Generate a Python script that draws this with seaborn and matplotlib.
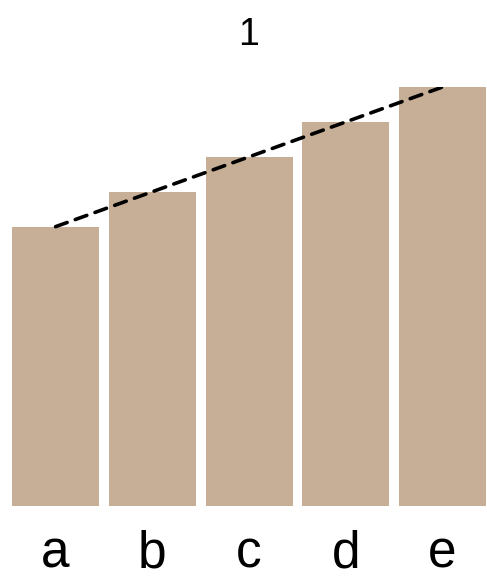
import matplotlib
matplotlib.use("Agg")
import matplotlib.pyplot as plt
import seaborn as sns
import pandas as pd

categories = ["a", "b", "c", "d", "e"]
values = [8, 9, 10, 11, 12]
title = "1"

BAR_COLOR = "#C7AF97"

sns.set_style("white")
plt.rcParams["font.family"] = ["Liberation Sans", "DejaVu Sans"]
plt.rcParams["text.color"] = "black"
plt.rcParams["xtick.color"] = "black"

df = pd.DataFrame({"cat": categories, "val": values})

fig = plt.figure(figsize=(4.87, 5.8), dpi=100)
ax = fig.add_axes([7.2 / 487, 1 - 506 / 580, 483.7 / 487, 419 / 580])

sns.barplot(data=df, x="cat", y="val", color=BAR_COLOR, width=0.9,
            saturation=1, edgecolor="none", ax=ax)
sns.pointplot(data=df, x="cat", y="val", color="black", markers="",
              linestyles="--", ax=ax)
for line in ax.lines:
    line.set_linewidth(2.6)
    line.set_linestyle((0, (3.4, 2.4)))
    line.set_dash_capstyle("round")

ax.set_xlim(-0.5, 4.5)
ax.set_ylim(0, 12)
ax.set_xlabel("")
ax.set_ylabel("")
ax.set_yticks([])
ax.tick_params(axis="x", length=0, pad=17, labelsize=37, labelcolor="black")
sns.despine(ax=ax, left=True, bottom=True)

fig.text(249 / 487, 1 - 45 / 580, title, ha="center", va="baseline",
         fontsize=27, color="black")

fig.savefig("out.png", dpi=100)
